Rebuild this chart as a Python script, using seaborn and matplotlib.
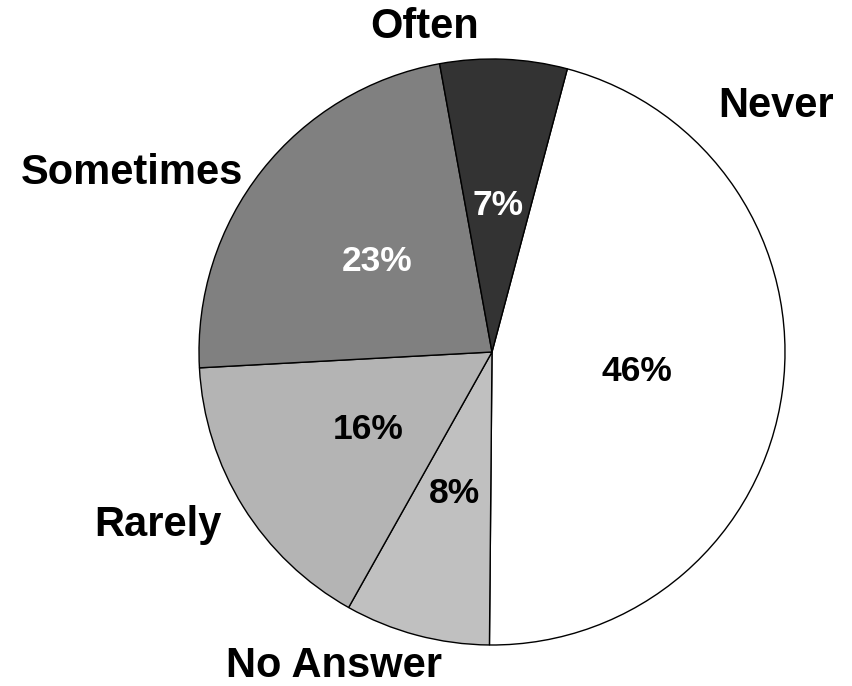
import matplotlib
matplotlib.use("Agg")
import matplotlib.pyplot as plt
import seaborn as sns

sns.set_style("white")
plt.rcParams["font.family"] = ["Liberation Sans", "DejaVu Sans"]
plt.rcParams["text.color"] = "black"

categories = ["Never", "No Answer", "Rarely", "Sometimes", "Often"]
percents = [46, 8, 16, 23, 7]
colors = ["#ffffff", "#c0c0c0", "#b4b4b4", "#808080", "#333333"]
pct_colors = ["black", "black", "black", "white", "white"]
# where each category name sits, in pie units (radius = 1)
label_pos = [(0.97, 0.84), (-0.54, -1.07), (-1.14, -0.59), (-1.23, 0.61), (-0.23, 1.11)]


def main():
    fig = plt.figure(figsize=(8.53, 6.86), dpi=100)
    W, H = 853, 686
    cx, cy, r = 492, 686 - 352, 293
    ax = fig.add_axes([(cx - r) / W, (cy - r) / H, 2 * r / W, 2 * r / H])

    wedges, texts, autotexts = ax.pie(
        percents, colors=colors, startangle=75.1, counterclock=False,
        autopct="%d%%", pctdistance=0.5,
        wedgeprops={"edgecolor": "black", "linewidth": 1.0},
        textprops={"fontsize": 25.5, "fontweight": "bold", "color": "black"},
    )
    for t, c in zip(autotexts, pct_colors):
        t.set_color(c)

    for name, (x, y) in zip(categories, label_pos):
        ax.text(x, y, name, ha="center", va="center", fontsize=30,
                fontweight="bold", color="black")

    ax.set_xlim(-1, 1)
    ax.set_ylim(-1, 1)
    ax.set_aspect("auto")
    ax.axis("off")
    fig.savefig("out.png", dpi=100)
    plt.close(fig)


if __name__ == "__main__":
    main()
